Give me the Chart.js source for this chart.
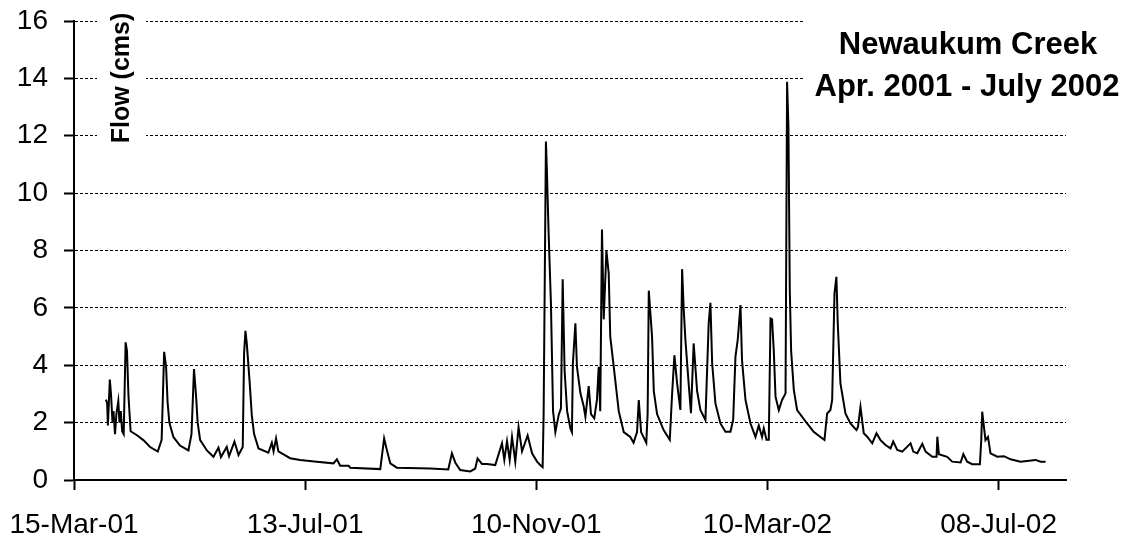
<!DOCTYPE html>
<html>
<head>
<meta charset="utf-8">
<script src="https://cdn.jsdelivr.net/npm/chart.js@4.4.0/dist/chart.umd.min.js"></script>
<style>
  html, body { margin: 0; padding: 0; background: #fff; }
  #wrap { width: 1129px; height: 542px; }
</style>
</head>
<body>
<div id="wrap"><canvas id="flowCanvas" width="1129" height="542"></canvas></div>
<script>
const dayOffsets = [
  16.5, 17.2, 17.6, 18.6, 19.2, 20.0, 20.5, 21.3, 22.0, 23.0, 23.6, 24.3, 25.0, 25.8, 26.8, 27.5, 28.3, 29.4,
  32.5, 36.0, 39.5, 43.5, 45.5, 46.8, 47.8, 48.6, 49.5, 51.6, 55.0, 59.4, 61.0, 62.3, 63.4, 64.2, 65.5, 69.0,
  72.4, 75.0, 76.3, 79.3, 80.5, 83.3, 85.4, 87.6, 88.3, 89.0, 89.7, 91.1, 92.3, 93.5, 95.8, 100.9, 102.7, 103.6,
  104.9, 106.1, 107.9, 112.2, 117.4, 126.0, 134.7, 136.5, 138.2, 142.5, 143.4, 159.0, 161.0, 162.4, 164.2, 167.6,
  185.0, 194.3, 196.2, 198.0, 200.5, 205.7, 208.3, 209.5, 211.8, 214.4, 218.7, 222.2, 223.4, 224.8, 226.2, 227.4,
  229.1, 230.8, 232.6, 235.5, 237.8, 240.4, 242.4, 243.3, 243.8, 245.0, 245.5, 246.4, 247.6, 248.7, 249.9, 251.6,
  252.8, 253.7, 254.7, 256.0, 257.7, 258.5, 259.0, 260.3, 261.1, 262.9, 264.6, 265.5, 267.2, 268.4, 270.1, 271.5,
  272.4, 273.2, 274.1, 275.0, 276.4, 277.6, 278.4, 280.2, 282.8, 285.4, 288.8, 290.5, 292.3, 293.2, 294.4, 297.1,
  297.8, 298.4, 300.1, 301.0, 302.7, 306.1, 309.3, 310.5, 311.7, 313.1, 314.8, 315.7, 316.5, 317.4, 319.1, 320.3,
  321.7, 323.5, 325.2, 327.8, 329.5, 330.4, 331.3, 333.0, 335.6, 338.2, 340.8, 342.2, 343.4, 344.6, 346.0, 346.8,
  348.6, 351.2, 353.8, 355.5, 357.2, 358.1, 359.5, 360.7, 361.6, 362.4, 363.3, 364.2, 365.9, 367.6, 369.4, 370.2,
  370.9, 371.6, 372.3, 373.7, 375.4, 380.6, 384.0, 387.5, 389.6, 391.0, 392.7, 393.6, 394.8, 395.8, 396.5, 397.9,
  400.5, 403.1, 406.2, 407.0, 408.3, 410.0, 411.8, 414.4, 416.6, 418.7, 421.3, 423.9, 425.3, 427.4, 430.0, 434.3,
  435.7, 437.8, 440.4, 442.1, 445.6, 447.8, 448.2, 449.0, 453.3, 455.9, 460.3, 461.7, 463.7, 466.3, 470.3, 471.0,
  471.5, 472.4, 473.2, 474.5, 475.8, 479.3, 482.8, 486.2, 491.4, 499.2, 501.8, 504.4
];
const flowCms = [
  2.8, 2.7, 1.9, 3.5, 3.0, 2.0, 2.4, 1.6, 2.3, 2.75, 2.0, 2.4, 1.7, 1.6, 4.8, 4.5, 2.9, 1.7,
  1.57, 1.39, 1.15, 0.99, 1.4, 4.47, 3.95, 2.7, 2.0, 1.5, 1.2, 1.03, 1.6, 3.87, 2.9, 2.0, 1.39, 1.03,
  0.81, 1.13, 0.8, 1.15, 0.83, 1.34, 0.87, 1.15, 4.4, 5.2, 4.76, 3.5, 2.26, 1.6, 1.1, 0.95, 1.3, 1.0,
  1.45, 1.0, 0.93, 0.76, 0.7, 0.64, 0.58, 0.72, 0.5, 0.5, 0.43, 0.38, 1.45, 1.05, 0.58, 0.43,
  0.4, 0.37, 0.93, 0.6, 0.35, 0.3, 0.4, 0.75, 0.56, 0.56, 0.52, 1.28, 0.7, 1.35, 0.7, 1.5,
  0.64, 1.84, 1.0, 1.55, 0.93, 0.64, 0.5, 0.45, 2.26, 11.8, 10.8, 8.6, 6.15, 2.4, 1.67, 2.26,
  2.5, 7.0, 3.8, 2.4, 1.8, 1.67, 4.07, 5.46, 3.95, 3.03, 2.57, 2.2, 3.27, 2.3, 2.15, 2.8,
  3.95, 2.4, 8.73, 5.6, 8.0, 7.2, 5.0, 3.95, 2.4, 1.67, 1.5, 1.3, 1.67, 2.79, 1.67, 1.3,
  2.3, 6.6, 5.0, 3.1, 2.3, 1.74, 1.4, 3.0, 4.35, 3.37, 2.44, 7.35, 6.0, 4.9, 3.37, 2.33,
  4.76, 3.1, 2.44, 2.09, 5.46, 6.18, 4.07, 2.67, 1.97, 1.68, 1.68, 2.09, 4.3, 4.9, 6.1, 4.18,
  2.79, 1.97, 1.5, 1.9, 1.5, 1.8, 1.4, 1.4, 5.63, 5.6, 4.5, 2.9, 2.44, 2.79, 3.02, 13.88,
  12.3, 6.62, 4.5, 3.14, 2.44, 1.97, 1.68, 1.5, 1.4, 2.32, 2.44, 2.79, 6.5, 7.08, 5.47, 3.37,
  2.32, 1.97, 1.74, 1.85, 2.55, 1.63, 1.51, 1.28, 1.63, 1.39, 1.22, 1.1, 1.34, 1.05, 0.99, 1.28,
  0.99, 0.93, 1.26, 0.99, 0.81, 0.81, 1.51, 0.9, 0.81, 0.64, 0.61, 0.9, 0.64, 0.55, 0.55, 1.39,
  2.38, 1.85, 1.39, 1.5, 0.93, 0.81, 0.83, 0.72, 0.64, 0.7, 0.64, 0.64
];
const xTickLabels = ['15-Mar-01', '13-Jul-01', '10-Nov-01', '10-Mar-02', '08-Jul-02'];
const titleLines = ['Newaukum Creek', 'Apr. 2001 - July 2002'];
const yTitle = 'Flow (cms)';

const FONT = '"Liberation Sans", Arial, sans-serif';

// title and axis label sit inside the plot on white boxes
const overlayText = {
  id: 'overlayText',
  beforeDatasetsDraw(chart) {
    const ctx = chart.ctx;
    ctx.save();
    ctx.fillStyle = '#fff';
    ctx.fillRect(804, 0, 300, 110);
    ctx.fillRect(97, 4, 49, 142);
    ctx.fillStyle = '#000';
    ctx.textAlign = 'center';
    ctx.textBaseline = 'alphabetic';
    ctx.font = 'bold 31px ' + FONT;
    ctx.fillText(titleLines[0], 968, 54);
    ctx.fillText(titleLines[1], 967, 96);
    ctx.translate(129, 78);
    ctx.rotate(-Math.PI / 2);
    ctx.font = 'bold 25px ' + FONT;
    ctx.fillText(yTitle, 0, 0);
    ctx.restore();
  }
};

const ctx = document.getElementById('flowCanvas').getContext('2d');

new Chart(ctx, {
  type: 'line',
  data: {
    datasets: [{
      data: dayOffsets.map((d, i) => ({ x: d, y: flowCms[i] })),
      borderColor: '#000',
      borderWidth: 2,
      pointRadius: 0,
      tension: 0,
      fill: false
    }]
  },
  options: {
    responsive: false,
    animation: false,
    devicePixelRatio: 1,
    layout: { autoPadding: false, padding: { top: 21, right: 63, left: 0, bottom: 0 } },
    plugins: { legend: { display: false }, tooltip: { enabled: false }, title: { display: false } },
    scales: {
      x: {
        type: 'linear',
        min: 0,
        max: 515,
        afterFit(scale) {
          scale.height = 62;
          scale.paddingLeft = 0;
          scale.paddingRight = 0;
        },
        ticks: {
          stepSize: 120,
          includeBounds: false,
          autoSkip: false,
          maxRotation: 0,
          color: '#000',
          padding: 18,
          font: { family: FONT, size: 28 },
          callback: (v) => xTickLabels[Math.round(v / 120)]
        },
        grid: {
          drawOnChartArea: false,
          drawTicks: true,
          tickLength: 10,
          tickColor: '#000',
          tickWidth: 2
        },
        border: { color: '#000', width: 2 }
      },
      y: {
        min: 0,
        max: 16,
        afterFit(scale) {
          scale.width = 74;
          scale.paddingTop = 0;
          scale.paddingBottom = 0;
        },
        ticks: {
          stepSize: 2,
          color: '#000',
          padding: 16,
          font: { family: FONT, size: 28 }
        },
        grid: {
          color: '#000',
          lineWidth: 1,
          tickLength: 10,
          tickColor: '#000',
          tickWidth: 2,
          tickBorderDash: []
        },
        border: { color: '#000', width: 2, dash: [3, 2] }
      }
    }
  },
  plugins: [overlayText]
});
</script>
</body>
</html>
